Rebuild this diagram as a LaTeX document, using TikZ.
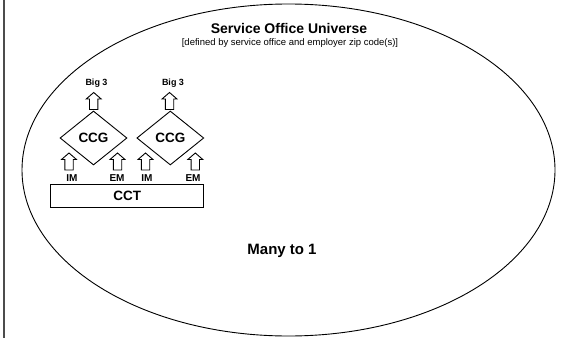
\documentclass[tikz,border=0pt]{standalone}
\usepackage{fontspec}
\setmainfont{Liberation Sans}
\usetikzlibrary{shapes.geometric}

\tikzset{
  outline/.style={draw=black, line width=0.9pt},
  bigtitle/.style={font=\fontsize{14}{16}\selectfont\bfseries, inner sep=0pt},
  subtitle/.style={font=\fontsize{9.5}{11}\selectfont, inner sep=0pt},
  smalllabel/.style={font=\fontsize{9}{10}\selectfont\bfseries, inner sep=0pt},
  portlabel/.style={font=\fontsize{10}{11}\selectfont\bfseries, inner sep=0pt},
  ccgbox/.style={outline, diamond, minimum width=67pt, minimum height=54pt,
                 inner sep=0pt, font=\fontsize{13.5}{15}\selectfont\bfseries},
  cctbox/.style={outline, rectangle, minimum width=153pt, minimum height=23.5pt,
                 inner sep=0pt, font=\fontsize{13.5}{15}\selectfont\bfseries},
  % hollow block arrow pointing up, centred on the pic origin
  uparrow/.pic={
    \draw[outline, fill=white, line join=miter]
      (0,-8.5) -- (7.5,-2) -- (4.2,-2) -- (4.2,8.5) -- (-4.2,8.5) -- (-4.2,-2)
      -- (-7.5,-2) -- cycle;
    \coordinate (-tip) at (0,-8.5);
    \coordinate (-base) at (0,8.5);
  }
}

\begin{document}
\begin{tikzpicture}[x=1pt, y=-1pt]
  \useasboundingbox (0,0) rectangle (569,342);

  % page rule on the left
  \draw[black!70, line width=1.2pt] (4,0) coordinate (ruletop) -- (4,338) coordinate (rulebot);

  % the universe
  \node[outline, ellipse, minimum width=533pt, minimum height=332pt, inner sep=0pt]
    (universe) at (288.5,170) {};
  \node[bigtitle] (title) at (289,28) {Service Office Universe};
  \node[subtitle] (subtitle) at (290,43) {[defined by service office and employer zip code(s)]};
  \node[font=\fontsize{15}{17}\selectfont\bfseries, inner sep=0pt] (many) at (282,251) {Many to 1};

  % the two CCGs
  \node[ccgbox] (ccgA) at (93.5,138) {CCG};
  \node[ccgbox] (ccgB) at (170.3,138) {CCG};

  % outputs
  \pic (outA) at (93.7,101) {uparrow};
  \pic (outB) at (169.5,101) {uparrow};
  \node[smalllabel] (bigA) at (96.5,83) {Big 3};
  \node[smalllabel] (bigB) at (173,83) {Big 3};

  % the shared CCT
  \node[cctbox] (cct) at (127.3,196) {CCT};

  % inputs into each CCG
  \pic (inA1) at (69,161.5) {uparrow};
  \pic (inA2) at (117.5,161.5) {uparrow};
  \pic (inB1) at (145.5,161.5) {uparrow};
  \pic (inB2) at (195.3,161.5) {uparrow};
  \node[portlabel] (imA) at (72,178.5) {IM};
  \node[portlabel] (emA) at (117,178.5) {EM};
  \node[portlabel] (imB) at (147,178.5) {IM};
  \node[portlabel] (emB) at (193,178.5) {EM};
\end{tikzpicture}
\end{document}
